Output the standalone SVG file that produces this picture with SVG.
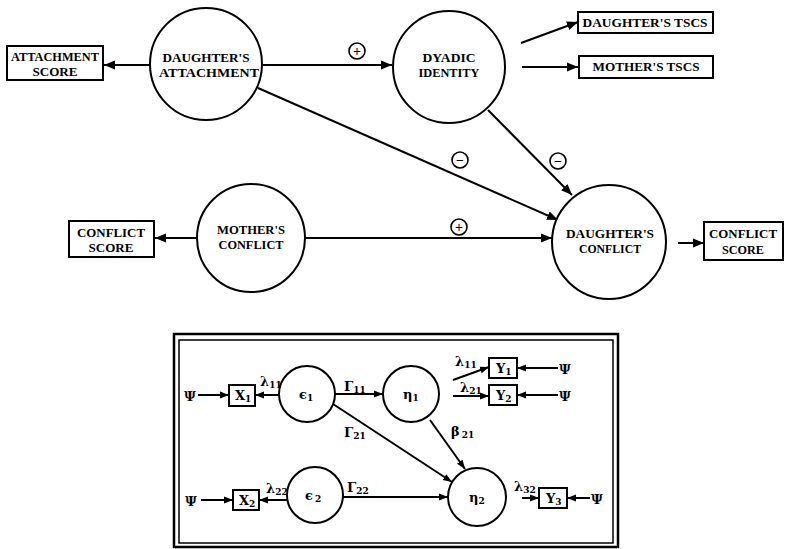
<svg xmlns="http://www.w3.org/2000/svg" width="787" height="549" viewBox="0 0 787 549">
<defs>
<marker id="ah" markerUnits="userSpaceOnUse" markerWidth="12" markerHeight="10" refX="11" refY="5" orient="auto">
<path d="M0,0.5 L11,5 L0,9.5 Z" fill="#000"/>
</marker>
<marker id="as" markerUnits="userSpaceOnUse" markerWidth="10" markerHeight="8" refX="9" refY="4" orient="auto">
<path d="M0,0.5 L9,4 L0,7.5 Z" fill="#000"/>
</marker>
</defs>
<style>
.n{fill:#fff;stroke:#000;stroke-width:2}
.t{font-family:"Liberation Serif","Times New Roman",serif;font-weight:bold;font-size:12.5px;text-anchor:middle;fill:#000}
.c line{stroke:#000;stroke-width:2}
.top line{marker-end:url(#ah)}
.bot line{marker-end:url(#as)}
.s{font-family:"Liberation Serif","Times New Roman",serif;font-weight:bold;font-size:14px;text-anchor:middle;fill:#000}
.g{font-family:"DejaVu Serif","Liberation Serif",serif;font-weight:bold;font-size:13px;fill:#000}
.sub{font-size:9px}
.sg{fill:#fff;stroke:#000;stroke-width:1.6}
</style>
<rect width="787" height="549" fill="#fff"/>

<g id="connectors" class="c">
<g class="top">
<line x1="150" y1="65" x2="104" y2="65"/>
<line x1="263" y1="65" x2="392" y2="65"/>
<line x1="521" y1="43" x2="578" y2="22"/>
<line x1="522" y1="67" x2="578" y2="67"/>
<line x1="488" y1="110" x2="572" y2="195"/>
<line x1="258" y1="88" x2="558" y2="220"/>
<line x1="197" y1="238" x2="155" y2="238"/>
<line x1="305" y1="238" x2="552" y2="238"/>
<line x1="678" y1="243" x2="704" y2="243"/>
</g>
<g class="bot">
<line x1="198" y1="395" x2="229" y2="395"/>
<line x1="280" y1="395" x2="255" y2="395"/>
<line x1="335" y1="394" x2="383" y2="394"/>
<line x1="333" y1="404" x2="452" y2="482"/>
<line x1="430" y1="420" x2="465" y2="469"/>
<line x1="287" y1="500" x2="259" y2="500"/>
<line x1="343" y1="497" x2="448" y2="497"/>
<line x1="201" y1="500" x2="233" y2="500"/>
<line x1="453" y1="380" x2="489" y2="367"/>
<line x1="453" y1="396" x2="489" y2="396"/>
<line x1="558" y1="368" x2="517" y2="368"/>
<line x1="558" y1="395" x2="517" y2="395"/>
<line x1="522" y1="498" x2="539" y2="498"/>
<line x1="590" y1="498" x2="567" y2="498"/>
</g>
</g>

<g id="sign-att-dyadic"><circle class="sg" cx="357" cy="51" r="8"/><text class="s" x="357" y="55.5">+</text></g>
<g id="sign-att-conf"><circle class="sg" cx="460" cy="160" r="8"/><text class="s" x="460" y="164.5">−</text></g>
<g id="sign-dyad-conf"><circle class="sg" cx="558" cy="161" r="8"/><text class="s" x="558" y="165.5">−</text></g>
<g id="sign-mconf"><circle class="sg" cx="459" cy="227" r="8"/><text class="s" x="459" y="231.5">+</text></g>

<g id="attachment-score">
<rect class="n" x="7" y="46" width="96" height="34"/>
<text class="t" x="55" y="61" textLength="88" lengthAdjust="spacingAndGlyphs">ATTACHMENT</text>
<text class="t" x="55" y="76" textLength="45" lengthAdjust="spacingAndGlyphs">SCORE</text>
</g>
<g id="daughters-attachment">
<circle class="n" cx="206" cy="64" r="56"/>
<text class="t" x="206" y="62" textLength="87" lengthAdjust="spacingAndGlyphs">DAUGHTER'S</text>
<text class="t" x="209" y="77" textLength="100" lengthAdjust="spacingAndGlyphs">ATTACHMENT</text>
</g>
<g id="dyadic-identity">
<circle class="n" cx="449" cy="67" r="56"/>
<text class="t" x="449" y="62" textLength="53" lengthAdjust="spacingAndGlyphs">DYADIC</text>
<text class="t" x="449" y="77" textLength="61" lengthAdjust="spacingAndGlyphs">IDENTITY</text>
</g>
<g id="daughters-tscs">
<rect class="n" x="578" y="12" width="135" height="21"/>
<text class="t" x="645" y="27" textLength="125" lengthAdjust="spacingAndGlyphs">DAUGHTER'S TSCS</text>
</g>
<g id="mothers-tscs">
<rect class="n" x="579" y="56" width="134" height="22"/>
<text class="t" x="646" y="71" textLength="107" lengthAdjust="spacingAndGlyphs">MOTHER'S TSCS</text>
</g>
<g id="conflict-score-left">
<rect class="n" x="69" y="221" width="85" height="36"/>
<text class="t" x="111" y="237" textLength="68" lengthAdjust="spacingAndGlyphs">CONFLICT</text>
<text class="t" x="111" y="252" textLength="45" lengthAdjust="spacingAndGlyphs">SCORE</text>
</g>
<g id="mothers-conflict">
<circle class="n" cx="251" cy="238" r="54"/>
<text class="t" x="251" y="234" textLength="68" lengthAdjust="spacingAndGlyphs">MOTHER'S</text>
<text class="t" x="251" y="249" textLength="65" lengthAdjust="spacingAndGlyphs">CONFLICT</text>
</g>
<g id="daughters-conflict">
<circle class="n" cx="609" cy="242" r="57"/>
<text class="t" x="610" y="238" textLength="88" lengthAdjust="spacingAndGlyphs">DAUGHTER'S</text>
<text class="t" x="610" y="253" textLength="62" lengthAdjust="spacingAndGlyphs">CONFLICT</text>
</g>
<g id="conflict-score-right">
<rect class="n" x="704" y="222" width="79" height="38"/>
<text class="t" x="743" y="238" textLength="68" lengthAdjust="spacingAndGlyphs">CONFLICT</text>
<text class="t" x="743" y="254" textLength="42" lengthAdjust="spacingAndGlyphs">SCORE</text>
</g>

<g id="legend-frame">
<rect x="174" y="334" width="444" height="213" fill="none" stroke="#000" stroke-width="2.5"/>
<rect x="179" y="340" width="434" height="203" fill="none" stroke="#000" stroke-width="1.5"/>
</g>

<g id="eps1"><circle class="n" cx="307" cy="394" r="28"/><text class="g" x="299" y="399">ϵ<tspan class="sub" dy="2">1</tspan></text></g>
<g id="eta1"><circle class="n" cx="411" cy="394" r="28"/><text class="g" x="403" y="399">η<tspan class="sub" dy="2">1</tspan></text></g>
<g id="eps2"><circle class="n" cx="315" cy="495" r="28"/><text class="g" x="305" y="500">ϵ<tspan class="sub" dx="2" dy="2">2</tspan></text></g>
<g id="eta2"><circle class="n" cx="477" cy="497" r="29"/><text class="g" x="469" y="502">η<tspan class="sub" dy="2">2</tspan></text></g>

<g id="x1"><rect class="n" x="229" y="385" width="26" height="21"/><text class="g" x="235" y="400">X<tspan class="sub" dy="2">1</tspan></text></g>
<g id="x2"><rect class="n" x="233" y="490" width="26" height="20"/><text class="g" x="239" y="505">X<tspan class="sub" dy="2">2</tspan></text></g>
<g id="y1"><rect class="n" x="489" y="358" width="28" height="20"/><text class="g" x="496" y="373">Y<tspan class="sub" dy="2">1</tspan></text></g>
<g id="y2"><rect class="n" x="489" y="385" width="28" height="20"/><text class="g" x="496" y="400">Y<tspan class="sub" dy="2">2</tspan></text></g>
<g id="y3"><rect class="n" x="539" y="488" width="28" height="20"/><text class="g" x="546" y="503">Y<tspan class="sub" dy="2">3</tspan></text></g>

<g id="psi-x1"><text class="g" x="184" y="401">Ψ</text></g>
<g id="psi-x2"><text class="g" x="185" y="506">Ψ</text></g>
<g id="psi-y1"><text class="g" x="559" y="374">Ψ</text></g>
<g id="psi-y2"><text class="g" x="559" y="401">Ψ</text></g>
<g id="psi-y3"><text class="g" x="591" y="504">Ψ</text></g>

<g id="path-labels">
<text class="g" x="260" y="386">λ<tspan class="sub" dy="2">11</tspan></text>
<text class="g" x="344" y="391">Γ<tspan class="sub" dy="2">11</tspan></text>
<text class="g" x="344" y="437">Γ<tspan class="sub" dy="2">21</tspan></text>
<text class="g" x="451" y="436">β<tspan class="sub" dx="2" dy="2">21</tspan></text>
<text class="g" x="266" y="493">λ<tspan class="sub" dy="2">22</tspan></text>
<text class="g" x="347" y="492">Γ<tspan class="sub" dy="2">22</tspan></text>
<text class="g" x="455" y="366">λ<tspan class="sub" dy="2">11</tspan></text>
<text class="g" x="460" y="392">λ<tspan class="sub" dy="2">21</tspan></text>
<text class="g" x="514" y="491">λ<tspan class="sub" dy="2">32</tspan></text>
</g>
</svg>
